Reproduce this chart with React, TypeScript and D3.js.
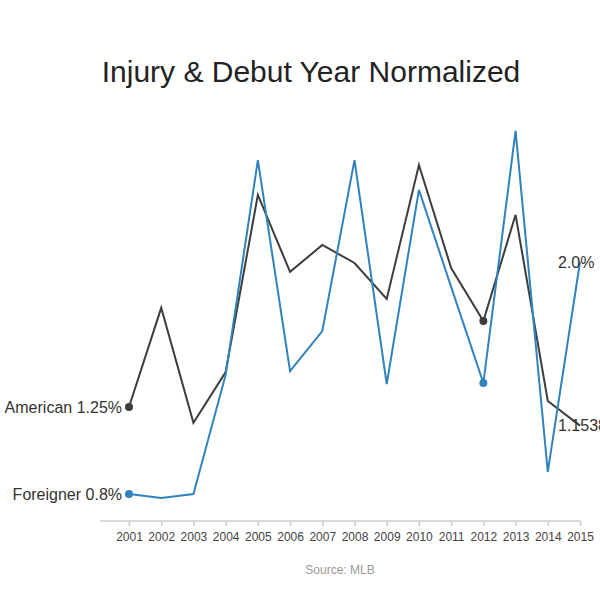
import { useEffect, useRef } from 'react';
import * as d3 from 'd3';

const years = [2001, 2002, 2003, 2004, 2005, 2006, 2007, 2008, 2009, 2010, 2011, 2012, 2013, 2014, 2015];
const american = [1.25, 1.763, 1.168, 1.431, 2.347, 1.949, 2.088, 1.995, 1.809, 2.502, 1.969, 1.695, 2.244, 1.281, 1.1538461538461537];
const foreigner = [0.8, 0.779, 0.8, 1.416, 2.527, 1.436, 1.643, 2.527, 1.369, 2.373, 1.871, 1.374, 2.678, 0.914, 2.0];
const seriesNames = ['American', 'Foreigner'];
const startLabels = ['American 1.25%', 'Foreigner 0.8%'];
const endLabels = ['1.1538461538461537%', '2.0%'];
const dotYears = [2001, 2012];

export default function App() {
    const svgRef = useRef<SVGSVGElement>(null);

    useEffect(() => {
        if (!svgRef.current) return;
        const svg = d3.select(svgRef.current);
        svg.selectAll('*').remove();

        const font = '"Liberation Sans", Arial, sans-serif';
        const colors = ['#3d3d3d', '#3182bd'];

        const x = d3.scaleLinear().domain([2001, 2015]).range([129, 580]);
        const y = d3.scaleLinear().domain([0.8, 2.0]).range([494, 262]);

        // Title
        svg.append('text')
            .attr('x', 311)
            .attr('y', 82)
            .attr('text-anchor', 'middle')
            .style('font-family', font)
            .style('font-size', '30px')
            .style('fill', '#222')
            .text('Injury & Debut Year Normalized');

        // Axis
        const axis = svg.append('g')
            .attr('transform', 'translate(0,521)')
            .call(d3.axisBottom(x).tickValues(years).tickFormat(d3.format('d')).tickSize(5).tickPadding(6));
        axis.select('.domain').remove();
        axis.append('line')
            .attr('x1', 100).attr('x2', 580)
            .attr('stroke', '#ccc').attr('stroke-width', 1.5);
        axis.selectAll('.tick line').attr('stroke', '#ccc').attr('stroke-width', 1.5);
        axis.selectAll('.tick text')
            .style('font-family', font)
            .style('font-size', '12px')
            .style('fill', '#444');

        const data = [american, foreigner];
        const line = d3.line<number>()
            .x((_, i) => x(years[i]))
            .y(d => y(d));

        data.forEach((vals, si) => {
            svg.append('path')
                .datum(vals)
                .attr('d', line)
                .attr('fill', 'none')
                .attr('stroke', colors[si])
                .attr('stroke-width', 2);

            svg.selectAll(null)
                .data(dotYears)
                .enter()
                .append('circle')
                .attr('cx', d => x(d))
                .attr('cy', d => y(vals[years.indexOf(d)]))
                .attr('r', 4)
                .attr('fill', colors[si]);

            svg.append('text')
                .attr('x', x(years[0]) - 7)
                .attr('y', y(vals[0]))
                .attr('dy', '0.35em')
                .attr('text-anchor', 'end')
                .style('font-family', font)
                .style('font-size', '16px')
                .style('fill', '#333')
                .text(startLabels[si]);

            svg.append('text')
                .attr('x', x(years[years.length - 1]) - 22)
                .attr('y', y(vals[vals.length - 1]))
                .attr('dy', '0.35em')
                .style('font-family', font)
                .style('font-size', '16px')
                .style('fill', '#333')
                .text(endLabels[si]);
        });

        // Source
        svg.append('text')
            .attr('x', 340)
            .attr('y', 574)
            .attr('text-anchor', 'middle')
            .style('font-family', font)
            .style('font-size', '12px')
            .style('fill', '#999')
            .text('Source: MLB');

        void seriesNames;
    }, []);

    return (
        <svg ref={svgRef} width={600} height={600}
            style={{ position: 'absolute', left: 0, top: 0, background: '#fff' }} />
    );
}
